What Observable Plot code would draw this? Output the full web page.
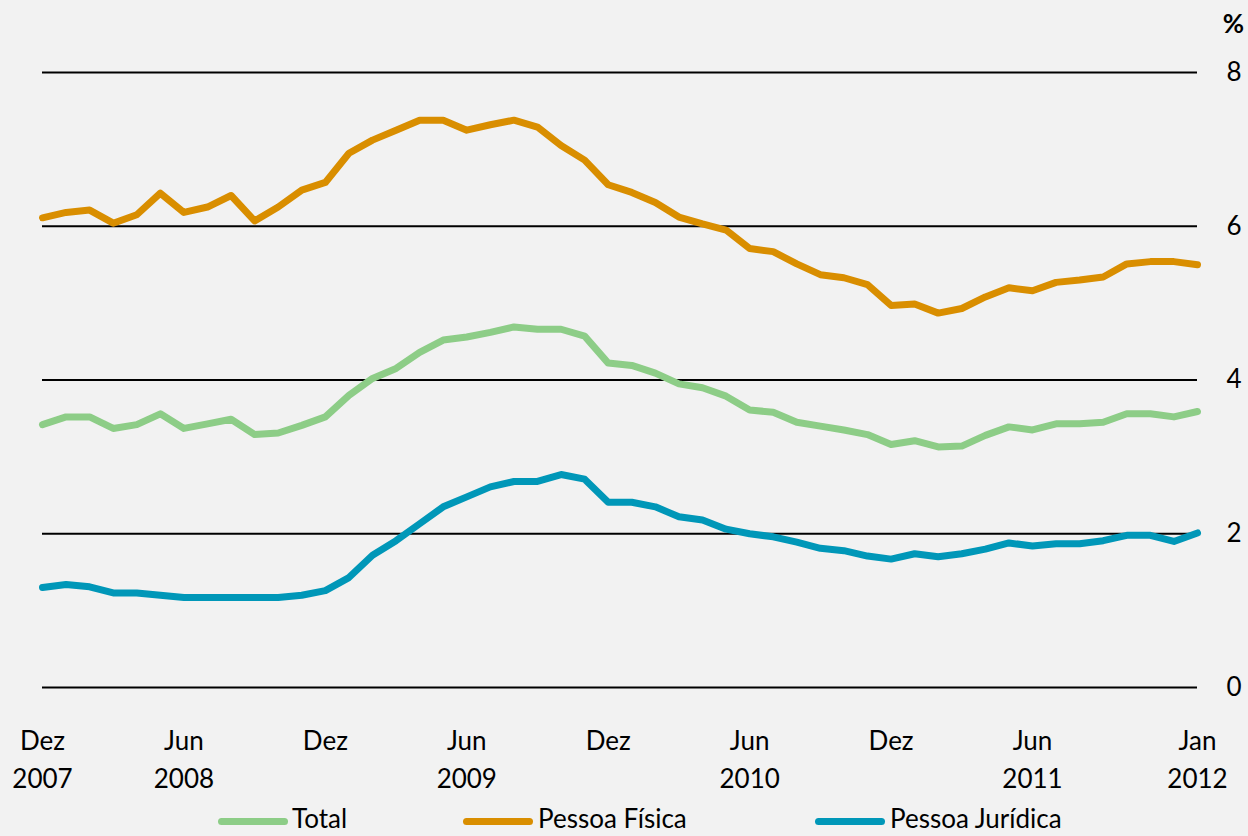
<!DOCTYPE html>
<html>
<head>
<meta charset="utf-8">
<script src="https://cdn.jsdelivr.net/npm/d3@7"></script>
<script src="https://cdn.jsdelivr.net/npm/@observablehq/plot@0.6"></script>
<style>
  html, body { margin: 0; padding: 0; background: #f2f2f2; }
  body { width: 1248px; height: 836px; overflow: hidden; font-family: Lato, "Open Sans", sans-serif; }
  #chart svg { display: block; background: #f2f2f2; }
  #legend { position: relative; width: 1248px; height: 36px; font-size: 26px; color: #000; }
  .sw { position: absolute; top: 18px; height: 7px; width: 70px; border-radius: 4px; }
  .lb { position: absolute; top: 2px; line-height: 32px; white-space: nowrap; }
</style>
</head>
<body>
<div id="chart"></div>
<div id="legend"></div>
<script>
const months = ["2007-12",
  "2008-01","2008-02","2008-03","2008-04","2008-05","2008-06","2008-07","2008-08","2008-09","2008-10","2008-11","2008-12",
  "2009-01","2009-02","2009-03","2009-04","2009-05","2009-06","2009-07","2009-08","2009-09","2009-10","2009-11","2009-12",
  "2010-01","2010-02","2010-03","2010-04","2010-05","2010-06","2010-07","2010-08","2010-09","2010-10","2010-11","2010-12",
  "2011-01","2011-02","2011-03","2011-04","2011-05","2011-06","2011-07","2011-08","2011-09","2011-10","2011-11","2011-12",
  "2012-01"];

const total = [3.42,3.52,3.52,3.37,3.42,3.56,3.37,3.43,3.49,3.29,3.31,3.41,3.52,
  3.80,4.02,4.15,4.36,4.52,4.56,4.62,4.69,4.66,4.66,4.57,4.22,
  4.19,4.09,3.95,3.90,3.79,3.61,3.58,3.45,3.40,3.35,3.29,3.16,
  3.21,3.13,3.14,3.28,3.39,3.35,3.43,3.43,3.45,3.56,3.56,3.52,
  3.59];

const pessoaFisica = [6.11,6.18,6.21,6.04,6.15,6.43,6.18,6.25,6.40,6.07,6.25,6.47,6.57,
  6.95,7.12,7.25,7.38,7.38,7.25,7.32,7.38,7.29,7.05,6.86,6.54,
  6.44,6.31,6.12,6.03,5.95,5.71,5.67,5.51,5.37,5.33,5.24,4.97,
  4.99,4.87,4.93,5.08,5.20,5.16,5.27,5.30,5.34,5.51,5.54,5.54,
  5.50];

const pessoaJuridica = [1.30,1.34,1.31,1.23,1.23,1.20,1.17,1.17,1.17,1.17,1.17,1.20,1.26,
  1.43,1.72,1.91,2.13,2.35,2.48,2.61,2.68,2.68,2.77,2.71,2.41,
  2.41,2.35,2.22,2.18,2.06,2.00,1.96,1.89,1.81,1.78,1.71,1.67,
  1.74,1.70,1.74,1.80,1.88,1.84,1.87,1.87,1.91,1.98,1.98,1.90,
  2.01];

const seriesNames = ["Total", "Pessoa Física", "Pessoa Jurídica"];
const seriesColors = ["#8dcd87", "#d98e00", "#0097b8"];

const tickMonths = ["2007-12","2008-06","2008-12","2009-06","2009-12","2010-06","2010-12","2011-06","2012-01"];
const tickTop = ["Dez","Jun","Dez","Jun","Dez","Jun","Dez","Jun","Jan"];
const tickBottom = ["2007","2008","","2009","","2010","","2011","2012"];
const yTicks = [0, 2, 4, 6, 8];

const rows = [];
[total, pessoaFisica, pessoaJuridica].forEach((arr, s) => {
  arr.forEach((v, i) => rows.push({month: months[i], value: v, series: seriesNames[s]}));
});
const ticks = tickMonths.map((m, i) => ({month: m, top: tickTop[i], bottom: tickBottom[i]}));

const fontFamily = "Lato, 'Open Sans', sans-serif";

const chart = Plot.plot({
  width: 1248,
  height: 800,
  marginTop: 72,
  marginBottom: 113,
  marginLeft: 42,
  marginRight: 51,
  style: {background: "#f2f2f2", fontFamily, fontSize: "26px", color: "#000"},
  x: {type: "point", domain: months, padding: 0, round: false, axis: null},
  y: {domain: [0, 8], axis: null},
  color: {domain: seriesNames, range: seriesColors},
  marks: [
    Plot.ruleY(yTicks, {stroke: "#000", strokeWidth: 2}),
    Plot.axisY(yTicks, {anchor: "right", tickSize: 0, tickPadding: 29, fontSize: 26, label: null, fill: "#000", tickFormat: d => String(d)}),
    Plot.text(["%"], {frameAnchor: "top-right", dx: 36, dy: -48, text: d => d, fontWeight: "bold", fontSize: 26, textAnchor: "middle", lineAnchor: "middle", fill: "#000"}),
    Plot.line(rows, {x: "month", y: "value", z: "series", stroke: "series", strokeWidth: 7, strokeLinejoin: "round", strokeLinecap: "round"}),
    Plot.text(ticks, {x: "month", frameAnchor: "bottom", dy: 54, text: "top", lineAnchor: "middle", fontSize: 26, fill: "#000"}),
    Plot.text(ticks, {x: "month", frameAnchor: "bottom", dy: 92, text: "bottom", lineAnchor: "middle", fontSize: 26, fill: "#000"})
  ]
});
document.getElementById("chart").appendChild(chart);

const legendPos = [{sw: 218, lb: 292}, {sw: 463, lb: 538}, {sw: 815, lb: 890}];
const legend = document.getElementById("legend");
seriesNames.forEach((name, i) => {
  const sw = document.createElement("div");
  sw.className = "sw";
  sw.style.left = legendPos[i].sw + "px";
  sw.style.background = seriesColors[i];
  legend.appendChild(sw);
  const lb = document.createElement("div");
  lb.className = "lb";
  lb.style.left = legendPos[i].lb + "px";
  lb.textContent = name;
  legend.appendChild(lb);
});
</script>
</body>
</html>
